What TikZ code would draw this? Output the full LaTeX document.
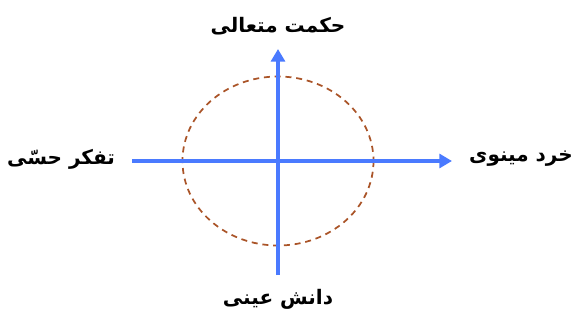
\documentclass[tikz,border=0pt]{standalone}
\usepackage{fontspec}
\newfontfamily\arabicfont[Script=Arabic]{DejaVu Sans}
\TeXXeTstate=1
\usetikzlibrary{arrows.meta, positioning}
\definecolor{axisblue}{RGB}{74,122,255}
\definecolor{zonebrown}{RGB}{170,84,40}

\begin{document}
\begin{tikzpicture}[x=0.75pt, y=-0.75pt,
    axis/.style={line width=3.6pt, axisblue, -{Triangle[length=9.5pt, width=10.5pt]}},
    axislabel/.style={font=\arabicfont\bfseries\fontsize{15}{18}\selectfont, inner sep=0pt},
    zone/.style={draw=zonebrown, line width=1.3pt, dash pattern=on 4.5pt off 3.6pt},
  ]
  \useasboundingbox (0,0) rectangle (574,325);

  \coordinate (o) at (278,161);
  \coordinate (w) at (132,161);
  \coordinate (e) at (452,161);
  \coordinate (s) at (278,275);
  \coordinate (n) at (278,49);

  \draw[zone] (o) ellipse [x radius=95.5, y radius=84.5];

  \draw[axis] (w) -- (e);
  \draw[axis] (s) -- (n);

  \node[axislabel] (top) at (278,26) {\beginR حکمت متعالی\endR};
  \node[axislabel] (bottom) at (278,299) {\beginR دانش عینی\endR};
  \node[axislabel] (left) at (61,159) {\beginR تفکر حسّی\endR};
  \node[axislabel] (right) at (521,159) {\beginR خرد مینوی\endR};
\end{tikzpicture}
\end{document}
